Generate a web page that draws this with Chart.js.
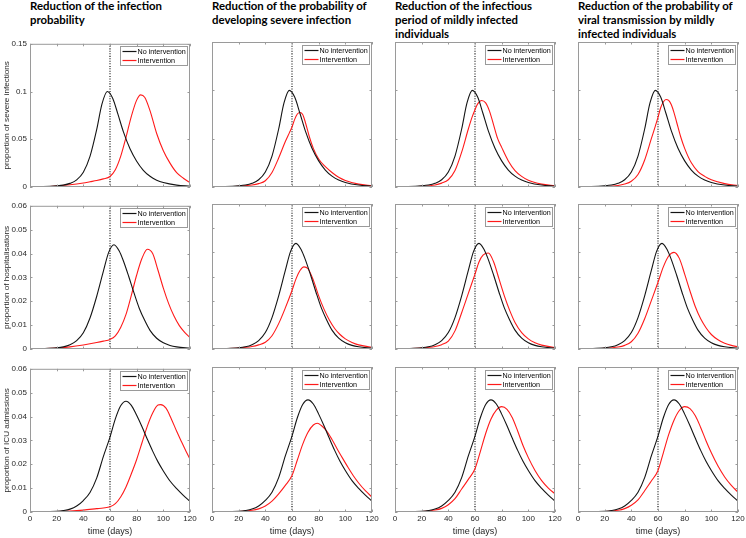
<!DOCTYPE html>
<html>
<head>
<meta charset="utf-8">
<script src="https://cdn.jsdelivr.net/npm/chart.js@4.4.1/dist/chart.umd.min.js"></script>
<style>
    body { margin: 0; background: #fff; width: 746px; height: 538px; position: relative; overflow: hidden; }
    .panel { position: absolute; }
    .title { position: absolute; font-family: Lato, sans-serif; font-weight: bold; font-size: 11.4px; line-height: 14px; color: #000; white-space: nowrap; }
</style>
</head>
<body>
<div id="figure"></div>
<script>
// days since start, value
const severeNo = [[0,0.0002],[10,0.0004],[20,0.0012],[25,0.002],[30,0.0038],[35,0.0075],[40,0.0155],[45,0.032],[50,0.06],[54,0.087],[58,0.1],[62,0.093],[66,0.076],[70,0.058],[75,0.04],[80,0.027],[85,0.0175],[90,0.0112],[95,0.0072],[100,0.0047],[110,0.002],[120,0.0008]];
const severeInfProb = [[0,0.0001],[10,0.0003],[20,0.0011],[30,0.0023],[40,0.0042],[45,0.0055],[50,0.0068],[55,0.0085],[60,0.011],[64,0.018],[68,0.032],[72,0.052],[76,0.074],[80,0.091],[83,0.0965],[86,0.094],[90,0.08],[95,0.056],[100,0.038],[105,0.025],[110,0.015],[115,0.0092],[120,0.0045]];
const severeSevereProb = [[0,0.0001],[10,0.0003],[20,0.0008],[30,0.002],[35,0.0035],[40,0.0065],[45,0.015],[50,0.03],[55,0.047],[58,0.056],[60,0.062],[62,0.07],[64,0.0755],[66,0.077],[68,0.075],[70,0.067],[73,0.052],[76,0.04],[80,0.029],[85,0.021],[90,0.015],[95,0.01],[100,0.0068],[110,0.003],[120,0.0012]];
const severeInfPeriod = [[0,0.0001],[10,0.0002],[20,0.0006],[30,0.002],[35,0.004],[40,0.0075],[45,0.017],[50,0.036],[55,0.06],[58,0.073],[60,0.08],[62,0.086],[65,0.0895],[68,0.087],[71,0.078],[74,0.064],[77,0.05],[80,0.041],[85,0.027],[90,0.017],[95,0.011],[100,0.007],[110,0.003],[120,0.0012]];
const severeTransmission = [[0,0.0001],[10,0.0002],[20,0.0005],[30,0.0015],[35,0.003],[40,0.006],[45,0.013],[50,0.028],[55,0.05],[58,0.063],[60,0.072],[62,0.082],[64,0.088],[66,0.0905],[68,0.0895],[70,0.085],[72,0.077],[74,0.067],[77,0.052],[80,0.04],[85,0.025],[90,0.016],[95,0.011],[100,0.0075],[110,0.0035],[120,0.0015]];

const hospNo = [[0,0.0001],[10,0.0002],[20,0.0005],[25,0.0009],[30,0.0018],[35,0.0035],[40,0.0068],[45,0.013],[50,0.022],[55,0.0325],[59,0.0405],[63,0.0437],[67,0.041],[70,0.037],[74,0.0305],[78,0.0235],[82,0.017],[86,0.012],[90,0.0078],[95,0.0045],[100,0.0026],[105,0.0015],[110,0.0009],[120,0.0003]];
const hospInfProb = [[0,0.0001],[10,0.0002],[20,0.0004],[30,0.0009],[40,0.0017],[50,0.0027],[55,0.0033],[60,0.004],[64,0.0055],[68,0.009],[72,0.0145],[76,0.0225],[80,0.031],[84,0.038],[88,0.0418],[92,0.04],[96,0.033],[100,0.0255],[104,0.019],[108,0.0138],[112,0.0098],[116,0.007],[120,0.0048]];
const hospSevereProb = [[0,0.0001],[10,0.0002],[20,0.0004],[30,0.001],[35,0.0017],[40,0.0028],[45,0.0055],[50,0.0105],[55,0.017],[60,0.0242],[63,0.029],[66,0.0325],[69,0.034],[72,0.0332],[76,0.0285],[80,0.022],[84,0.0165],[88,0.012],[92,0.0085],[96,0.006],[100,0.0042],[105,0.0027],[110,0.0017],[120,0.0007]];
const hospInfPeriod = [[0,0.0001],[10,0.0002],[20,0.0004],[30,0.001],[35,0.0018],[40,0.0033],[45,0.0075],[50,0.015],[55,0.023],[60,0.031],[63,0.036],[66,0.0388],[70,0.0397],[74,0.036],[78,0.029],[82,0.022],[86,0.016],[90,0.011],[95,0.0068],[100,0.0042],[105,0.0026],[110,0.0016],[120,0.0006]];
const hospTransmission = [[0,0.0001],[10,0.0002],[20,0.0003],[30,0.0008],[35,0.0015],[40,0.003],[45,0.0065],[50,0.0125],[55,0.02],[60,0.0276],[64,0.034],[68,0.0385],[72,0.04],[76,0.0375],[80,0.031],[84,0.024],[88,0.0175],[92,0.0125],[96,0.0088],[100,0.006],[105,0.0038],[110,0.0024],[115,0.0015],[120,0.0009]];

const icuNo = [[0,0.0001],[10,0.0001],[20,0.0003],[25,0.0006],[30,0.0012],[35,0.0025],[40,0.0048],[45,0.0082],[50,0.0142],[55,0.0232],[60,0.0314],[64,0.039],[68,0.0445],[72,0.0464],[76,0.0447],[80,0.0405],[84,0.0357],[88,0.0305],[92,0.0255],[96,0.021],[100,0.0172],[105,0.013],[110,0.0098],[115,0.007],[120,0.0045]];
const icuInfProb = [[0,0],[10,0.0001],[20,0.0002],[30,0.0004],[40,0.0008],[50,0.0014],[55,0.0017],[60,0.0022],[64,0.0035],[68,0.0063],[72,0.0105],[76,0.016],[80,0.022],[84,0.029],[88,0.036],[92,0.0415],[96,0.0448],[98,0.045],[102,0.0435],[106,0.039],[110,0.0338],[114,0.029],[117,0.0255],[120,0.0221]];
const icuSevereProb = [[0,0],[10,0.0001],[20,0.0002],[30,0.0007],[35,0.0013],[40,0.0025],[45,0.0045],[50,0.0075],[55,0.011],[60,0.0151],[64,0.0215],[68,0.028],[72,0.033],[76,0.036],[79,0.0367],[82,0.0358],[86,0.0335],[90,0.03],[94,0.026],[98,0.0222],[102,0.0185],[106,0.015],[110,0.012],[115,0.0088],[120,0.0062]];
const icuInfPeriod = [[0,0],[10,0.0001],[20,0.0002],[30,0.0008],[35,0.0015],[40,0.003],[45,0.0055],[50,0.0095],[55,0.0135],[60,0.0179],[64,0.025],[68,0.0325],[72,0.0385],[76,0.0422],[80,0.0436],[84,0.0425],[88,0.039],[92,0.0335],[96,0.0275],[100,0.0225],[105,0.0172],[110,0.013],[115,0.0099],[120,0.0075]];
const icuTransmission = [[0,0],[10,0.0001],[20,0.0002],[30,0.0007],[35,0.0014],[40,0.0028],[45,0.005],[50,0.0088],[55,0.0128],[60,0.0172],[64,0.0245],[68,0.032],[72,0.038],[76,0.042],[80,0.0436],[84,0.0428],[88,0.0398],[92,0.035],[96,0.0295],[100,0.0245],[105,0.019],[110,0.0145],[115,0.011],[120,0.0082]];

const interventionDay = 60;
const xTicks = [0, 20, 40, 60, 80, 100, 120];
const yTicksSevere = [0, 0.05, 0.1, 0.15];
const yTicksShare = [0, 0.01, 0.02, 0.03, 0.04, 0.05, 0.06];
const legendLabels = ['No intervention', 'Intervention'];
const lineColors = ['#141414', '#ff1a1a'];

const columnTitles = [
    ['Reduction of the infection', 'probability'],
    ['Reduction of the probability of', 'developing severe infection'],
    ['Reduction of the infectious', 'period of mildly infected', 'individuals'],
    ['Reduction of the probability of', 'viral transmission by mildly', 'infected individuals']
];

const rows = [
    { label: 'proportion of severe infections', ticks: yTicksSevere, base: severeNo,
      series: [severeInfProb, severeSevereProb, severeInfPeriod, severeTransmission] },
    { label: 'proportion of hospitalisations', ticks: yTicksShare, base: hospNo,
      series: [hospInfProb, hospSevereProb, hospInfPeriod, hospTransmission] },
    { label: 'proportion of ICU admissions', ticks: yTicksShare, base: icuNo,
      series: [icuInfProb, icuSevereProb, icuInfPeriod, icuTransmission] }
];

// layout of the grid
const plotLefts = [30, 212, 395, 578];
const plotTops = [42, 204, 367];
const plotW = 160, plotH = 145;
const padL = 30, padR = 10, padT = 6, padB = 26;
const boxColor = '#9a9a9a';

Chart.defaults.font.family = '"Liberation Sans", Arial, sans-serif';
Chart.defaults.font.size = 8;
Chart.defaults.color = '#262626';

const toPoints = pairs => pairs.map(p => ({ x: p[0], y: p[1] }));

const matlabBox = {
    id: 'matlabBox',
    afterDraw(chart) {
        const { ctx, chartArea: a, scales: { x, y } } = chart;
        ctx.save();
        ctx.strokeStyle = boxColor;
        ctx.lineWidth = 1;
        ctx.beginPath();
        x.ticks.forEach(t => {
            const px = Math.round(x.getPixelForValue(t.value)) + 0.5;
            ctx.moveTo(px, a.bottom); ctx.lineTo(px, a.bottom - 2.5);
            ctx.moveTo(px, a.top); ctx.lineTo(px, a.top + 2.5);
        });
        y.ticks.forEach(t => {
            const py = Math.round(y.getPixelForValue(t.value)) + 0.5;
            ctx.moveTo(a.left, py); ctx.lineTo(a.left + 2.5, py);
            ctx.moveTo(a.right, py); ctx.lineTo(a.right - 2.5, py);
        });
        ctx.stroke();
        ctx.strokeRect(a.left + 0.5, a.top + 0.5, a.width - 1, a.height - 1);

        // legend box in the top right corner
        const lw = 67, lh = 19;
        const lx = Math.round(a.right - 3.5 - lw) + 0.5;
        const ly = Math.round(a.top + 2.5) + 0.5;
        ctx.fillStyle = '#fff';
        ctx.fillRect(lx, ly, lw, lh);
        ctx.strokeRect(lx, ly, lw, lh);
        ctx.font = '7.2px "Liberation Sans", Arial, sans-serif';
        ctx.textBaseline = 'middle';
        legendLabels.forEach((text, i) => {
            const yy = ly + 5 + i * 9;
            ctx.strokeStyle = lineColors[i];
            ctx.lineWidth = 1.2;
            ctx.beginPath();
            ctx.moveTo(lx + 2, yy);
            ctx.lineTo(lx + 16, yy);
            ctx.stroke();
            ctx.fillStyle = '#000';
            ctx.fillText(text, lx + 17, yy + 0.5);
        });
        ctx.restore();
    }
};

const figure = document.getElementById('figure');

columnTitles.forEach((lines, c) => {
    const t = document.createElement('div');
    t.className = 'title';
    t.style.left = plotLefts[c] + 'px';
    t.style.top = '-1px';
    t.innerHTML = lines.join('<br>');
    figure.appendChild(t);
});

rows.forEach((row, r) => {
    const ymax = row.ticks[row.ticks.length - 1];
    row.series.forEach((series, c) => {
        const canvas = document.createElement('canvas');
        canvas.className = 'panel';
        canvas.width = plotW + padL + padR;
        canvas.height = plotH + padT + padB;
        canvas.style.left = (plotLefts[c] - padL) + 'px';
        canvas.style.top = (plotTops[r] - padT) + 'px';
        figure.appendChild(canvas);

        const lastRow = r === rows.length - 1;
        const firstCol = c === 0;

        new Chart(canvas.getContext('2d'), {
            type: 'line',
            data: {
                datasets: [
                    { label: legendLabels[0], data: toPoints(row.base), borderColor: lineColors[0], order: 1 },
                    { label: legendLabels[1], data: toPoints(series), borderColor: lineColors[1], order: 2 },
                    { label: 'day ' + interventionDay,
                      data: [{ x: interventionDay, y: 0 }, { x: interventionDay, y: ymax }],
                      borderColor: '#000', borderDash: [1, 1.5], order: 3 }
                ]
            },
            options: {
                responsive: false,
                devicePixelRatio: 1,
                animation: false,
                layout: { padding: { left: 0, right: padR, top: padT, bottom: 0 } },
                elements: {
                    point: { radius: 0 },
                    line: { borderWidth: 1.1, cubicInterpolationMode: 'monotone', fill: false }
                },
                plugins: { legend: { display: false }, tooltip: { enabled: false } },
                scales: {
                    x: {
                        type: 'linear', min: 0, max: 120,
                        grid: { display: false, drawTicks: false },
                        border: { display: false },
                        afterBuildTicks: s => { s.ticks = xTicks.map(v => ({ value: v })); },
                        afterFit: s => { s.height = padB; },
                        ticks: { display: lastRow, padding: 2, maxRotation: 0, callback: v => String(v) },
                        title: { display: lastRow, text: 'time (days)', font: { size: 9 }, padding: { top: 0, bottom: 1 } }
                    },
                    y: {
                        type: 'linear', min: 0, max: ymax,
                        grid: { display: false, drawTicks: false },
                        border: { display: false },
                        afterBuildTicks: s => { s.ticks = row.ticks.map(v => ({ value: v })); },
                        afterFit: s => { s.width = padL; },
                        ticks: { display: firstCol, padding: 3, callback: v => String(v) },
                        title: { display: firstCol, text: row.label, font: { size: 8.1 }, padding: { top: 1.5, bottom: 0 } }
                    }
                }
            },
            plugins: [matlabBox]
        });
    });
});
</script>
</body>
</html>
